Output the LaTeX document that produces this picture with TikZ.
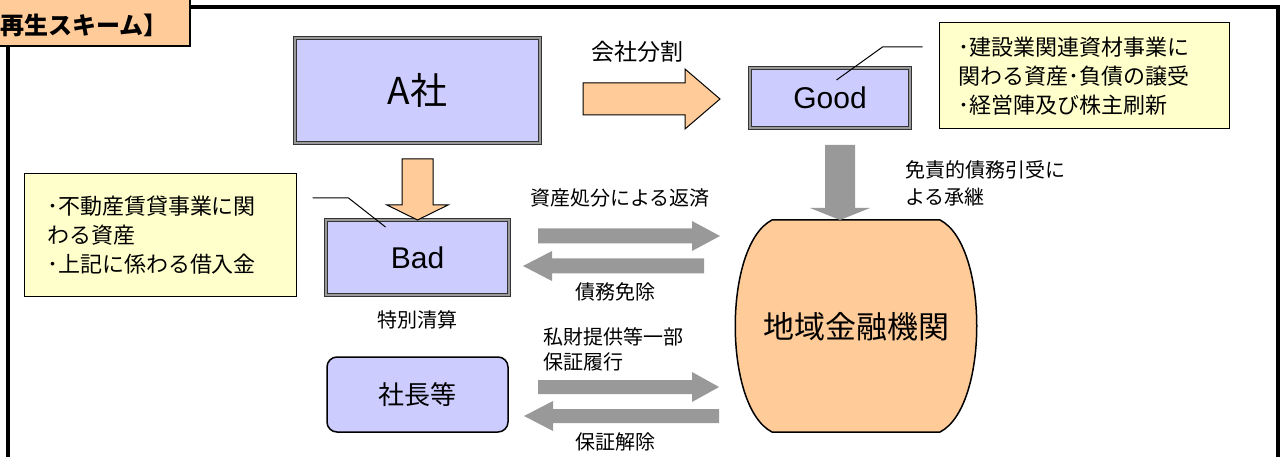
\documentclass[tikz,border=0pt]{standalone}
\usepackage{fontspec}
\setmainfont{Noto Sans CJK JP}
\newfontfamily\latinfont{Liberation Sans}
\definecolor{firmblue}{HTML}{CCCCFF}
\definecolor{peach}{HTML}{FFCC99}
\definecolor{memo}{HTML}{FFFFCC}
\definecolor{flowgray}{HTML}{999999}
\newcommand{\fsz}[2]{\fontsize{#1}{#2}\selectfont}
\tikzset{
	firm/.style={draw=black!80, line width=0.8pt, double=black!40, double distance=2pt, fill=firmblue, inner sep=0pt},
	memobox/.style={draw=black, line width=1pt, fill=memo, inner sep=0pt, align=left, font=\fsz{22}{29}},
	label/.style={inner sep=0pt, font=\fsz{20}{26}},
	blockarrow/.style={fill=peach, draw=black, line width=1pt},
	flow/.style={fill=flowgray},
}
\begin{document}
\begin{tikzpicture}[x=1pt, y=-1pt]
		\useasboundingbox (0, 0) rectangle (1283, 457);
		\clip (0, 0) rectangle (1283, 457);

		\draw[line width=3.5pt] (8, 7) rectangle (1278, 480);
		\draw[fill=peach, line width=1.5pt] (-5, -5) rectangle (190, 46);
		\node[anchor=west, inner sep=0pt, font=\fsz{24}{24}\bfseries] (title) at (-24, 25) {【再生スキーム】};

		\node[firm, minimum width=245, minimum height=105, font=\fsz{37}{37}] (acorp) at (417.5, 90.5) {A社};
		\node[firm, minimum width=160, minimum height=60, font=\fsz{30}{30}\latinfont] (good) at (830, 98) {Good};
		\node[firm, minimum width=183, minimum height=75, font=\fsz{30}{30}\latinfont] (bad) at (417.5, 257.5) {Bad};
		\node[draw=black, line width=1.5pt, rounded corners=10pt, fill=firmblue, minimum width=181, minimum height=75, font=\fsz{26}{26}] (boss) at (417.5, 394.5) {社長等};

		\node[memobox, minimum width=290, minimum height=106, text width=252] (goodnote) at (1084, 76)
		{･建設業関連資材事業に\\関わる資産･負債の譲受\\･経営陣及び株主刷新};
		\node[memobox, minimum width=272, minimum height=122, text width=226] (badnote) at (160, 235)
		{･不動産賃貸事業に関\\わる資産\\･上記に係わる借入金};

		\draw[fill=peach, line width=1.5pt]
		(772, 220) -- (940, 220)
		.. controls (989, 245) and (989, 407) .. (940, 432) --
		(772, 432)
		.. controls (723, 407) and (723, 245) .. cycle;
		\node[inner sep=0pt, font=\fsz{31}{31}] (bank) at (856, 327) {地域金融機関};

		\draw[line width=1pt] (goodnote.west) ++(-16, -29) -- ++(-40, 0) -- ++(-46, 33);
		\draw[line width=1pt] (badnote.east) ++(16, -37) -- ++(36, 0) -- ++(37, 29);

		\draw[blockarrow] (583, 83) -- ++(102, 0) -- ++(0, -14) -- ++(35, 30) -- ++(-35, 30) -- ++(0, -14) -- ++(-102, 0) -- cycle;
		\draw[blockarrow] (402, 159) -- ++(31, 0) -- ++(0, 46) -- ++(15, 0) -- ++(-30.5, 15) -- ++(-30.5, -15) -- ++(15, 0) -- cycle;

		\fill[flow] (825, 145) -- ++(30, 0) -- ++(0, 63) -- ++(15, 0) -- ++(-30, 12) -- ++(-30, -12) -- ++(15, 0) -- cycle;
		\fill[flow] (538, 228.5) -- ++(154, 0) -- ++(0, -7.5) -- ++(28, 15) -- ++(-28, 15) -- ++(0, -7.5) -- ++(-154, 0) -- cycle;
		\fill[flow] (704, 258.5) -- ++(-152, 0) -- ++(0, -7.5) -- ++(-29, 15) -- ++(29, 15) -- ++(0, -7.5) -- ++(152, 0) -- cycle;
		\fill[flow] (538, 380) -- ++(154, 0) -- ++(0, -8) -- ++(27, 15) -- ++(-27, 15) -- ++(0, -8) -- ++(-154, 0) -- cycle;
		\fill[flow] (719, 409) -- ++(-166, 0) -- ++(0, -8) -- ++(-29, 15) -- ++(29, 15) -- ++(0, -8) -- ++(166, 0) -- cycle;

		\node[label, font=\fsz{23}{23}] (split) at (637, 52) {会社分割};
		\node[label] (repay) at (620, 198) {資産処分による返済};
		\node[label] (waiver) at (615, 292) {債務免除};
		\node[label] (liquid) at (417, 320) {特別清算};
		\node[label, anchor=west, align=left, font=\fsz{20}{25}] (guar) at (543, 349.5) {私財提供等一部\\保証履行};
		\node[label] (release) at (615, 442) {保証解除};
		\node[label, anchor=west, align=left, font=\fsz{20}{27}] (assume) at (905, 183.5) {免責的債務引受に\\よる承継};
	\end{tikzpicture}
\end{document}
